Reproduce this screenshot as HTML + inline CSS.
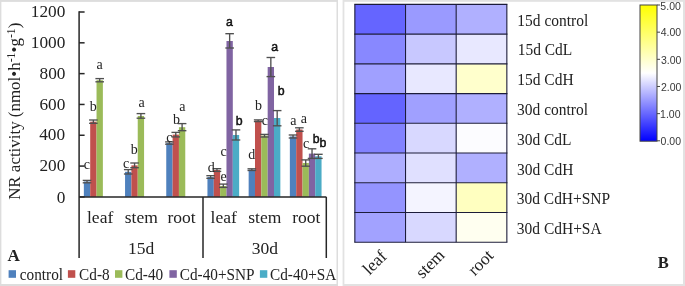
<!DOCTYPE html>
<html><head><meta charset="utf-8"><style>
html,body{margin:0;padding:0;background:#fff;}
svg{display:block;will-change:transform;filter:blur(0.35px);}
</style></head><body>
<svg width="685" height="286" viewBox="0 0 685 286">
<style>text{fill:#222}</style>
<rect x="0" y="0" width="338" height="286" fill="#dddddd"/>
<rect x="1.4" y="1.9" width="335.1" height="282.1" fill="#fff"/>
<rect x="342.6" y="0" width="342.4" height="286" fill="#e2e2e2"/>
<rect x="344.4" y="1.8" width="338.6" height="282.2" fill="#fff"/>
<rect x="83.85" y="181.50" width="6.34" height="15.40" fill="#4F81BD"/>
<rect x="90.19" y="121.70" width="6.34" height="75.20" fill="#C0504D"/>
<rect x="96.53" y="80.20" width="6.34" height="116.70" fill="#9BBB59"/>
<rect x="125.05" y="171.80" width="6.34" height="25.10" fill="#4F81BD"/>
<rect x="131.39" y="165.40" width="6.34" height="31.50" fill="#C0504D"/>
<rect x="137.73" y="116.00" width="6.34" height="80.90" fill="#9BBB59"/>
<rect x="166.25" y="143.00" width="6.34" height="53.90" fill="#4F81BD"/>
<rect x="172.59" y="134.60" width="6.34" height="62.30" fill="#C0504D"/>
<rect x="178.93" y="127.20" width="6.34" height="69.70" fill="#9BBB59"/>
<rect x="207.45" y="177.00" width="6.34" height="19.90" fill="#4F81BD"/>
<rect x="213.79" y="170.00" width="6.34" height="26.90" fill="#C0504D"/>
<rect x="220.13" y="186.00" width="6.34" height="10.90" fill="#9BBB59"/>
<rect x="226.47" y="41.00" width="6.34" height="155.90" fill="#8064A2"/>
<rect x="232.81" y="135.00" width="6.34" height="61.90" fill="#4BACC6"/>
<rect x="248.65" y="169.60" width="6.34" height="27.30" fill="#4F81BD"/>
<rect x="254.99" y="120.60" width="6.34" height="76.30" fill="#C0504D"/>
<rect x="261.33" y="135.60" width="6.34" height="61.30" fill="#9BBB59"/>
<rect x="267.67" y="67.00" width="6.34" height="129.90" fill="#8064A2"/>
<rect x="274.01" y="118.00" width="6.34" height="78.90" fill="#4BACC6"/>
<rect x="289.85" y="136.50" width="6.34" height="60.40" fill="#4F81BD"/>
<rect x="296.19" y="129.50" width="6.34" height="67.40" fill="#C0504D"/>
<rect x="302.53" y="163.00" width="6.34" height="33.90" fill="#9BBB59"/>
<rect x="308.87" y="153.60" width="6.34" height="43.30" fill="#8064A2"/>
<rect x="315.21" y="156.30" width="6.34" height="40.60" fill="#4BACC6"/>
<g stroke="#262626" stroke-width="1.5">
<line x1="79.1" y1="11.3" x2="79.1" y2="258"/>
<line x1="79.1" y1="196.90" x2="84.6" y2="196.90"/>
<line x1="79.1" y1="166.08" x2="84.6" y2="166.08"/>
<line x1="79.1" y1="135.27" x2="84.6" y2="135.27"/>
<line x1="79.1" y1="104.45" x2="84.6" y2="104.45"/>
<line x1="79.1" y1="73.63" x2="84.6" y2="73.63"/>
<line x1="79.1" y1="42.82" x2="84.6" y2="42.82"/>
<line x1="79.1" y1="12.00" x2="84.6" y2="12.00"/>
<line x1="79.1" y1="196.9" x2="326.3" y2="196.9"/>
<line x1="203.0" y1="196.9" x2="203.0" y2="258"/>
<line x1="326.3" y1="196.9" x2="326.3" y2="258"/>
</g>
<g stroke="#505050" stroke-width="1.35" fill="none">
<line x1="87.02" y1="180.4" x2="87.02" y2="182.8"/>
<line x1="82.72" y1="180.4" x2="91.32" y2="180.4"/>
<line x1="82.72" y1="182.8" x2="91.32" y2="182.8"/>
<line x1="93.36" y1="120.0" x2="93.36" y2="123.3"/>
<line x1="89.06" y1="120.0" x2="97.66" y2="120.0"/>
<line x1="89.06" y1="123.3" x2="97.66" y2="123.3"/>
<line x1="99.70" y1="78.6" x2="99.70" y2="81.8"/>
<line x1="95.40" y1="78.6" x2="104.00" y2="78.6"/>
<line x1="95.40" y1="81.8" x2="104.00" y2="81.8"/>
<line x1="128.22" y1="169.6" x2="128.22" y2="174.0"/>
<line x1="123.92" y1="169.6" x2="132.52" y2="169.6"/>
<line x1="123.92" y1="174.0" x2="132.52" y2="174.0"/>
<line x1="134.56" y1="163.0" x2="134.56" y2="167.7"/>
<line x1="130.26" y1="163.0" x2="138.86" y2="163.0"/>
<line x1="130.26" y1="167.7" x2="138.86" y2="167.7"/>
<line x1="140.90" y1="113.6" x2="140.90" y2="118.2"/>
<line x1="136.60" y1="113.6" x2="145.20" y2="113.6"/>
<line x1="136.60" y1="118.2" x2="145.20" y2="118.2"/>
<line x1="169.42" y1="141.9" x2="169.42" y2="144.2"/>
<line x1="165.12" y1="141.9" x2="173.72" y2="141.9"/>
<line x1="165.12" y1="144.2" x2="173.72" y2="144.2"/>
<line x1="175.76" y1="132.4" x2="175.76" y2="136.9"/>
<line x1="171.46" y1="132.4" x2="180.06" y2="132.4"/>
<line x1="171.46" y1="136.9" x2="180.06" y2="136.9"/>
<line x1="182.10" y1="123.6" x2="182.10" y2="130.7"/>
<line x1="177.80" y1="123.6" x2="186.40" y2="123.6"/>
<line x1="177.80" y1="130.7" x2="186.40" y2="130.7"/>
<line x1="210.62" y1="175.7" x2="210.62" y2="178.3"/>
<line x1="206.32" y1="175.7" x2="214.92" y2="175.7"/>
<line x1="206.32" y1="178.3" x2="214.92" y2="178.3"/>
<line x1="216.96" y1="168.7" x2="216.96" y2="171.4"/>
<line x1="212.66" y1="168.7" x2="221.26" y2="168.7"/>
<line x1="212.66" y1="171.4" x2="221.26" y2="171.4"/>
<line x1="223.30" y1="184.1" x2="223.30" y2="187.4"/>
<line x1="219.00" y1="184.1" x2="227.60" y2="184.1"/>
<line x1="219.00" y1="187.4" x2="227.60" y2="187.4"/>
<line x1="229.64" y1="33.7" x2="229.64" y2="48.0"/>
<line x1="225.34" y1="33.7" x2="233.94" y2="33.7"/>
<line x1="225.34" y1="48.0" x2="233.94" y2="48.0"/>
<line x1="235.98" y1="129.9" x2="235.98" y2="140.0"/>
<line x1="231.68" y1="129.9" x2="240.28" y2="129.9"/>
<line x1="231.68" y1="140.0" x2="240.28" y2="140.0"/>
<line x1="251.82" y1="168.8" x2="251.82" y2="170.5"/>
<line x1="247.52" y1="168.8" x2="256.12" y2="168.8"/>
<line x1="247.52" y1="170.5" x2="256.12" y2="170.5"/>
<line x1="258.16" y1="119.9" x2="258.16" y2="121.6"/>
<line x1="253.86" y1="119.9" x2="262.46" y2="119.9"/>
<line x1="253.86" y1="121.6" x2="262.46" y2="121.6"/>
<line x1="264.50" y1="134.4" x2="264.50" y2="137.0"/>
<line x1="260.20" y1="134.4" x2="268.80" y2="134.4"/>
<line x1="260.20" y1="137.0" x2="268.80" y2="137.0"/>
<line x1="270.84" y1="57.5" x2="270.84" y2="76.6"/>
<line x1="266.54" y1="57.5" x2="275.14" y2="57.5"/>
<line x1="266.54" y1="76.6" x2="275.14" y2="76.6"/>
<line x1="277.18" y1="110.6" x2="277.18" y2="125.8"/>
<line x1="272.88" y1="110.6" x2="281.48" y2="110.6"/>
<line x1="272.88" y1="125.8" x2="281.48" y2="125.8"/>
<line x1="293.02" y1="135.0" x2="293.02" y2="138.0"/>
<line x1="288.72" y1="135.0" x2="297.32" y2="135.0"/>
<line x1="288.72" y1="138.0" x2="297.32" y2="138.0"/>
<line x1="299.36" y1="127.8" x2="299.36" y2="131.3"/>
<line x1="295.06" y1="127.8" x2="303.66" y2="127.8"/>
<line x1="295.06" y1="131.3" x2="303.66" y2="131.3"/>
<line x1="305.70" y1="159.9" x2="305.70" y2="166.2"/>
<line x1="301.40" y1="159.9" x2="310.00" y2="159.9"/>
<line x1="301.40" y1="166.2" x2="310.00" y2="166.2"/>
<line x1="312.04" y1="148.8" x2="312.04" y2="158.4"/>
<line x1="307.74" y1="148.8" x2="316.34" y2="148.8"/>
<line x1="307.74" y1="158.4" x2="316.34" y2="158.4"/>
<line x1="318.38" y1="154.3" x2="318.38" y2="158.4"/>
<line x1="314.08" y1="154.3" x2="322.68" y2="154.3"/>
<line x1="314.08" y1="158.4" x2="322.68" y2="158.4"/>
</g>
<text transform="translate(65.30,202.60)" font-family="&quot;Liberation Serif&quot;, serif" font-size="17.25" text-anchor="end">0</text>
<text transform="translate(65.37,171.33)" font-family="&quot;Liberation Serif&quot;, serif" font-size="17.25" text-anchor="end">200</text>
<text transform="translate(65.00,140.07)" font-family="&quot;Liberation Serif&quot;, serif" font-size="17.25" text-anchor="end">400</text>
<text transform="translate(65.37,109.80)" font-family="&quot;Liberation Serif&quot;, serif" font-size="17.25" text-anchor="end">600</text>
<text transform="translate(65.40,78.53)" font-family="&quot;Liberation Serif&quot;, serif" font-size="17.25" text-anchor="end">800</text>
<text transform="translate(65.37,48.27)" font-family="&quot;Liberation Serif&quot;, serif" font-size="17.25" text-anchor="end">1000</text>
<text transform="translate(65.37,17.00)" font-family="&quot;Liberation Serif&quot;, serif" font-size="17.25" text-anchor="end">1200</text>
<text transform="translate(86.99,223.00) scale(1.0304,0.9958)" font-family="&quot;Liberation Serif&quot;, serif" font-size="17">leaf</text>
<text transform="translate(124.78,223.00) scale(1.0304,0.9958)" font-family="&quot;Liberation Serif&quot;, serif" font-size="17">stem</text>
<text transform="translate(167.48,223.00) scale(1.0304,0.9958)" font-family="&quot;Liberation Serif&quot;, serif" font-size="17">root</text>
<text transform="translate(210.52,223.00) scale(1.0304,0.9958)" font-family="&quot;Liberation Serif&quot;, serif" font-size="17">leaf</text>
<text transform="translate(248.22,223.00) scale(1.0304,0.9958)" font-family="&quot;Liberation Serif&quot;, serif" font-size="17">stem</text>
<text transform="translate(292.19,223.00) scale(1.0304,0.9958)" font-family="&quot;Liberation Serif&quot;, serif" font-size="17">root</text>
<text transform="translate(128.08,253.57) scale(1.0304,0.9958)" font-family="&quot;Liberation Serif&quot;, serif" font-size="17">15d</text>
<text transform="translate(251.85,253.57) scale(1.0304,0.9958)" font-family="&quot;Liberation Serif&quot;, serif" font-size="17">30d</text>
<text transform="translate(19.98,199.87) scale(0.9962,0.9962) rotate(-90)" font-family="&quot;Liberation Serif&quot;, serif" font-size="17">NR activity (nmol•h<tspan dy="-5.2" font-size="0.7em">-1</tspan><tspan dy="5.2">•g</tspan><tspan dy="-5.2" font-size="0.7em">-1</tspan><tspan dy="5.2">)</tspan></text>
<text transform="translate(7.40,261.35) scale(1.0699,1.0046)" font-family="&quot;Liberation Serif&quot;, serif" font-size="16" font-weight="bold">A</text>
<text transform="translate(657.74,268.10) scale(1.0335,1.0747)" font-family="&quot;Liberation Serif&quot;, serif" font-size="16" font-weight="bold">B</text>
<text transform="translate(19.82,279.53) scale(1.0182,1.0500)" font-family="&quot;Liberation Serif&quot;, serif" font-size="15">control</text>
<text transform="translate(79.10,279.53) scale(1.0182,1.0500)" font-family="&quot;Liberation Serif&quot;, serif" font-size="15">Cd-8</text>
<text transform="translate(125.00,279.53) scale(1.0182,1.0500)" font-family="&quot;Liberation Serif&quot;, serif" font-size="15">Cd-40</text>
<text transform="translate(179.78,279.53) scale(1.0182,1.0500)" font-family="&quot;Liberation Serif&quot;, serif" font-size="15">Cd-40+SNP</text>
<text transform="translate(270.05,279.53) scale(1.0182,1.0500)" font-family="&quot;Liberation Serif&quot;, serif" font-size="15">Cd-40+SA</text>
<text transform="translate(517.32,25.50) scale(1.0315,1.0750)" font-family="&quot;Liberation Serif&quot;, serif" font-size="15">15d control</text>
<text transform="translate(517.69,55.30) scale(1.0315,1.0750)" font-family="&quot;Liberation Serif&quot;, serif" font-size="15">15d CdL</text>
<text transform="translate(517.30,85.10) scale(1.0315,1.0750)" font-family="&quot;Liberation Serif&quot;, serif" font-size="15">15d CdH</text>
<text transform="translate(517.10,114.90) scale(1.0315,1.0750)" font-family="&quot;Liberation Serif&quot;, serif" font-size="15">30d control</text>
<text transform="translate(516.96,144.70) scale(1.0315,1.0750)" font-family="&quot;Liberation Serif&quot;, serif" font-size="15">30d CdL</text>
<text transform="translate(517.04,174.50) scale(1.0315,1.0750)" font-family="&quot;Liberation Serif&quot;, serif" font-size="15">30d CdH</text>
<text transform="translate(516.75,204.30) scale(1.0315,1.0750)" font-family="&quot;Liberation Serif&quot;, serif" font-size="15">30d CdH+SNP</text>
<text transform="translate(516.85,234.10) scale(1.0315,1.0750)" font-family="&quot;Liberation Serif&quot;, serif" font-size="15">30d CdH+SA</text>
<text transform="translate(369.44,275.66) scale(1.0498,1.0498) rotate(-45)" font-family="&quot;Liberation Serif&quot;, serif" font-size="16.5">leaf</text>
<text transform="translate(422.51,279.24) scale(1.0498,1.0498) rotate(-45)" font-family="&quot;Liberation Serif&quot;, serif" font-size="16.5">stem</text>
<text transform="translate(474.68,276.40) scale(1.0498,1.0498) rotate(-45)" font-family="&quot;Liberation Serif&quot;, serif" font-size="16.5">root</text>
<text transform="translate(83.67,169.00)" font-family="&quot;Liberation Serif&quot;, serif" font-size="14">c</text>
<text transform="translate(89.70,111.00)" font-family="&quot;Liberation Serif&quot;, serif" font-size="14">b</text>
<text transform="translate(96.61,69.00)" font-family="&quot;Liberation Serif&quot;, serif" font-size="14">a</text>
<text transform="translate(122.96,168.00)" font-family="&quot;Liberation Serif&quot;, serif" font-size="14">c</text>
<text transform="translate(130.70,154.40)" font-family="&quot;Liberation Serif&quot;, serif" font-size="14">b</text>
<text transform="translate(138.42,107.40)" font-family="&quot;Liberation Serif&quot;, serif" font-size="14">a</text>
<text transform="translate(166.31,141.80)" font-family="&quot;Liberation Serif&quot;, serif" font-size="14">c</text>
<text transform="translate(172.90,123.60)" font-family="&quot;Liberation Serif&quot;, serif" font-size="14">b</text>
<text transform="translate(179.24,111.40)" font-family="&quot;Liberation Serif&quot;, serif" font-size="14">a</text>
<text transform="translate(207.75,171.60)" font-family="&quot;Liberation Serif&quot;, serif" font-size="14">d</text>
<text transform="translate(220.55,156.00)" font-family="&quot;Liberation Serif&quot;, serif" font-size="14">c</text>
<text transform="translate(220.61,181.00)" font-family="&quot;Liberation Serif&quot;, serif" font-size="14">e</text>
<text transform="translate(226.07,26.10)" font-family="&quot;Liberation Sans&quot;, sans-serif" font-size="12.3" stroke="#000" stroke-width="0.45">a</text>
<text transform="translate(235.85,125.36)" font-family="&quot;Liberation Sans&quot;, sans-serif" font-size="12.3" stroke="#000" stroke-width="0.45">b</text>
<text transform="translate(248.22,159.40)" font-family="&quot;Liberation Serif&quot;, serif" font-size="14">d</text>
<text transform="translate(254.93,109.80)" font-family="&quot;Liberation Serif&quot;, serif" font-size="14">b</text>
<text transform="translate(261.87,124.80)" font-family="&quot;Liberation Serif&quot;, serif" font-size="14">c</text>
<text transform="translate(271.27,51.26)" font-family="&quot;Liberation Sans&quot;, sans-serif" font-size="12.3" stroke="#000" stroke-width="0.45">a</text>
<text transform="translate(277.78,95.40)" font-family="&quot;Liberation Sans&quot;, sans-serif" font-size="12.3" stroke="#000" stroke-width="0.45">b</text>
<text transform="translate(290.24,125.20)" font-family="&quot;Liberation Serif&quot;, serif" font-size="14">a</text>
<text transform="translate(300.75,123.20)" font-family="&quot;Liberation Serif&quot;, serif" font-size="14">a</text>
<text transform="translate(302.96,148.20)" font-family="&quot;Liberation Serif&quot;, serif" font-size="14">c</text>
<text transform="translate(312.65,143.16)" font-family="&quot;Liberation Sans&quot;, sans-serif" font-size="12.3" stroke="#000" stroke-width="0.45">b</text>
<text transform="translate(319.48,146.98)" font-family="&quot;Liberation Sans&quot;, sans-serif" font-size="12.3" stroke="#000" stroke-width="0.45">b</text>
<rect x="8.6" y="270.2" width="7.4" height="7.6" fill="#4F81BD"/>
<rect x="67.9" y="270.2" width="7.4" height="7.6" fill="#C0504D"/>
<rect x="115.0" y="270.2" width="7.4" height="7.6" fill="#9BBB59"/>
<rect x="169.4" y="270.2" width="7.4" height="7.6" fill="#8064A2"/>
<rect x="259.9" y="270.2" width="7.4" height="7.6" fill="#4BACC6"/>
<rect x="354.85" y="4.40" width="50.67" height="29.72" fill="#6565ff"/>
<rect x="405.52" y="4.40" width="50.67" height="29.72" fill="#9a9aff"/>
<rect x="456.18" y="4.40" width="50.67" height="29.72" fill="#b0b0ff"/>
<rect x="354.85" y="34.12" width="50.67" height="29.72" fill="#8888ff"/>
<rect x="405.52" y="34.12" width="50.67" height="29.72" fill="#c8c8ff"/>
<rect x="456.18" y="34.12" width="50.67" height="29.72" fill="#e8e8ff"/>
<rect x="354.85" y="63.85" width="50.67" height="29.72" fill="#a0a0ff"/>
<rect x="405.52" y="63.85" width="50.67" height="29.72" fill="#e8e8ff"/>
<rect x="456.18" y="63.85" width="50.67" height="29.72" fill="#ffffcc"/>
<rect x="354.85" y="93.58" width="50.67" height="29.72" fill="#6464ff"/>
<rect x="405.52" y="93.58" width="50.67" height="29.72" fill="#a0a0ff"/>
<rect x="456.18" y="93.58" width="50.67" height="29.72" fill="#b0b0ff"/>
<rect x="354.85" y="123.30" width="50.67" height="29.72" fill="#8282ff"/>
<rect x="405.52" y="123.30" width="50.67" height="29.72" fill="#d8d8ff"/>
<rect x="456.18" y="123.30" width="50.67" height="29.72" fill="#fcfcff"/>
<rect x="354.85" y="153.03" width="50.67" height="29.72" fill="#aeaeff"/>
<rect x="405.52" y="153.03" width="50.67" height="29.72" fill="#e0e0ff"/>
<rect x="456.18" y="153.03" width="50.67" height="29.72" fill="#b0b0ff"/>
<rect x="354.85" y="182.75" width="50.67" height="29.72" fill="#9494ff"/>
<rect x="405.52" y="182.75" width="50.67" height="29.72" fill="#f4f4ff"/>
<rect x="456.18" y="182.75" width="50.67" height="29.72" fill="#ffffc0"/>
<rect x="354.85" y="212.47" width="50.67" height="29.72" fill="#a2a2ff"/>
<rect x="405.52" y="212.47" width="50.67" height="29.72" fill="#d8d8ff"/>
<rect x="456.18" y="212.47" width="50.67" height="29.72" fill="#fffff0"/>
<g stroke="#1c1c3a" stroke-width="1.1">
<line x1="354.3" y1="4.40" x2="507.40000000000003" y2="4.40"/>
<line x1="354.3" y1="34.12" x2="507.40000000000003" y2="34.12"/>
<line x1="354.3" y1="63.85" x2="507.40000000000003" y2="63.85"/>
<line x1="354.3" y1="93.58" x2="507.40000000000003" y2="93.58"/>
<line x1="354.3" y1="123.30" x2="507.40000000000003" y2="123.30"/>
<line x1="354.3" y1="153.03" x2="507.40000000000003" y2="153.03"/>
<line x1="354.3" y1="182.75" x2="507.40000000000003" y2="182.75"/>
<line x1="354.3" y1="212.47" x2="507.40000000000003" y2="212.47"/>
<line x1="354.3" y1="242.20" x2="507.40000000000003" y2="242.20"/>
<line x1="354.85" y1="4.4" x2="354.85" y2="242.2"/>
<line x1="405.52" y1="4.4" x2="405.52" y2="242.2"/>
<line x1="456.18" y1="4.4" x2="456.18" y2="242.2"/>
<line x1="506.85" y1="4.4" x2="506.85" y2="242.2"/>
</g>
<defs><linearGradient id="cb" x1="0" y1="1" x2="0" y2="0"><stop offset="0" stop-color="#0000ff"/><stop offset="0.5" stop-color="#ffffff"/><stop offset="1" stop-color="#ffff00"/></linearGradient></defs>
<rect x="640.0" y="5.0" width="17.0" height="136.20000000000002" fill="url(#cb)" stroke="#454545" stroke-width="1"/>
<line x1="657.0" y1="140.80" x2="660.0" y2="140.80" stroke="#454545" stroke-width="1"/>
<text transform="translate(660.54,145.00)" font-family="&quot;Liberation Sans&quot;, sans-serif" font-size="10.5" style="fill:#383838">0.00</text>
<line x1="657.0" y1="113.64" x2="660.0" y2="113.64" stroke="#454545" stroke-width="1"/>
<text transform="translate(660.06,118.36)" font-family="&quot;Liberation Sans&quot;, sans-serif" font-size="10.5" style="fill:#383838">1.00</text>
<line x1="657.0" y1="86.48" x2="660.0" y2="86.48" stroke="#454545" stroke-width="1"/>
<text transform="translate(660.99,90.72)" font-family="&quot;Liberation Sans&quot;, sans-serif" font-size="10.5" style="fill:#383838">2.00</text>
<line x1="657.0" y1="59.32" x2="660.0" y2="59.32" stroke="#454545" stroke-width="1"/>
<text transform="translate(660.93,64.08)" font-family="&quot;Liberation Sans&quot;, sans-serif" font-size="10.5" style="fill:#383838">3.00</text>
<line x1="657.0" y1="32.16" x2="660.0" y2="32.16" stroke="#454545" stroke-width="1"/>
<text transform="translate(660.73,36.44)" font-family="&quot;Liberation Sans&quot;, sans-serif" font-size="10.5" style="fill:#383838">4.00</text>
<line x1="657.0" y1="5.00" x2="660.0" y2="5.00" stroke="#454545" stroke-width="1"/>
<text transform="translate(660.37,9.80)" font-family="&quot;Liberation Sans&quot;, sans-serif" font-size="10.5" style="fill:#383838">5.00</text>
</svg>
</body></html>
